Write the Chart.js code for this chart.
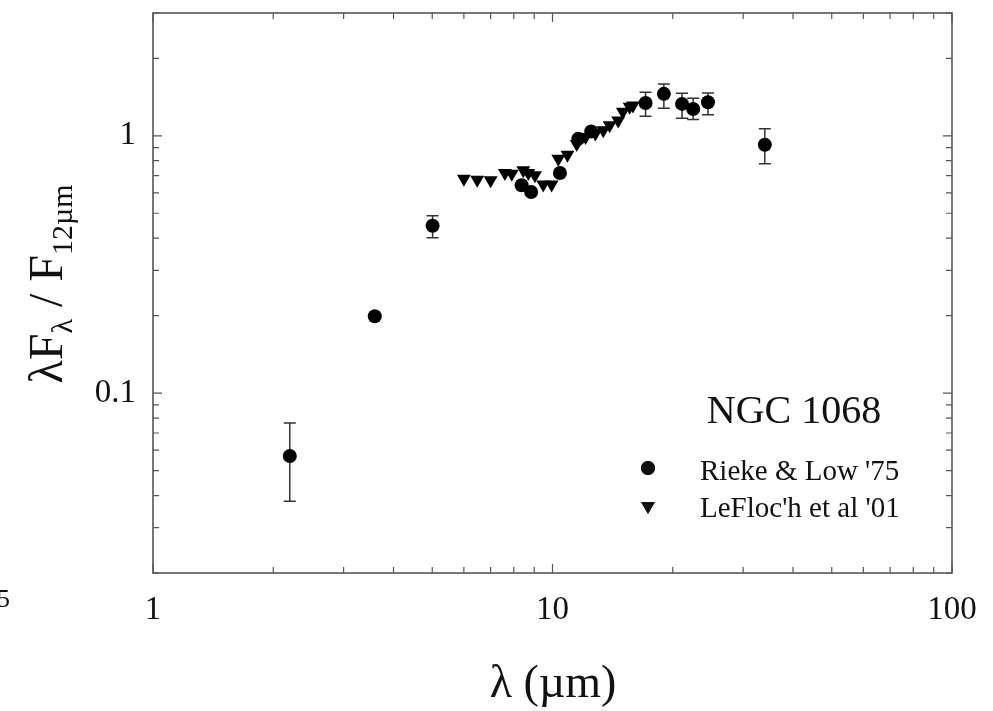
<!DOCTYPE html>
<html>
<head>
<meta charset="utf-8">
<script src="https://cdn.jsdelivr.net/npm/chart.js@4.4.0/dist/chart.umd.min.js"></script>
<style>
  html, body { margin: 0; padding: 0; background: #fff; }
  #chart { display: block; }
</style>
</head>
<body>
<canvas id="chart" width="993" height="711"></canvas>
<script>
// Rieke & Low '75 photometry (filled circles), normalised to F(12um)
const riekeX  = [2.2, 3.59, 5.01, 8.37, 8.84, 10.44, 11.6, 12.5, 17.1, 19.0, 21.1, 22.5, 24.5, 34.0];
const riekeY  = [0.057, 0.199, 0.447, 0.642, 0.605, 0.717, 0.973, 1.04, 1.34, 1.455, 1.33, 1.27, 1.35, 0.923];
const riekeLo = [0.038, null, 0.402, null, null, null, null, null, 1.19, 1.28, 1.17, 1.157, 1.206, 0.779];
const riekeHi = [0.0765, null, 0.489, null, null, null, null, null, 1.477, 1.59, 1.464, 1.40, 1.468, 1.064];

// LeFloc'h et al '01 spectrum (down triangles)
const leflocX = [6.0, 6.48, 7.0, 7.6, 7.91, 8.45, 8.7, 9.04, 9.48, 9.95, 10.34, 10.9, 11.5, 12.1, 12.8, 13.4, 13.9, 14.6, 15.0, 15.6, 15.9];
const leflocY = [0.681, 0.675, 0.672, 0.716, 0.712, 0.734, 0.717, 0.702, 0.646, 0.646, 0.814, 0.844, 0.93, 0.99, 1.02, 1.05, 1.10, 1.146, 1.24, 1.296, 1.31];

// axes
const xTicks = [1, 2, 3, 4, 5, 6, 7, 8, 9, 10, 20, 30, 40, 50, 60, 70, 80, 90, 100];
const xMajor = [1, 10, 100];
const yTicks = [0.02, 0.03, 0.04, 0.05, 0.06, 0.07, 0.08, 0.09, 0.1, 0.2, 0.3, 0.4, 0.5, 0.6, 0.7, 0.8, 0.9, 1, 2, 3];
const yMajor = [0.1, 1];

const seriesNames = ["Rieke & Low '75", "LeFloc'h et al '01"];
const objectName = 'NGC 1068';

const SERIF = '"Liberation Serif", "DejaVu Serif", serif';

// error bars for the Rieke & Low points
const errorBars = {
  id: 'errorBars',
  beforeDatasetsDraw(chart) {
    const { ctx, scales: { x, y } } = chart;
    ctx.save();
    ctx.strokeStyle = '#333';
    ctx.lineWidth = 1.5;
    riekeX.forEach((v, i) => {
      if (riekeLo[i] == null) return;
      const px = x.getPixelForValue(v);
      const lo = y.getPixelForValue(riekeLo[i]);
      const hi = y.getPixelForValue(riekeHi[i]);
      ctx.beginPath();
      ctx.moveTo(px, lo); ctx.lineTo(px, hi);
      ctx.moveTo(px - 6, lo); ctx.lineTo(px + 6, lo);
      ctx.moveTo(px - 6, hi); ctx.lineTo(px + 6, hi);
      ctx.stroke();
    });
    ctx.restore();
  }
};

// box frame with inward ticks on all four sides
const frameTicks = {
  id: 'frameTicks',
  afterDraw(chart) {
    const { ctx, chartArea: a, scales: { x, y } } = chart;
    ctx.save();
    ctx.strokeStyle = '#555';
    ctx.lineWidth = 1.6;
    ctx.strokeRect(a.left, a.top, a.right - a.left, a.bottom - a.top);
    ctx.lineWidth = 1.2;
    ctx.beginPath();
    xTicks.forEach(v => {
      const px = x.getPixelForValue(v);
      const len = xMajor.includes(v) ? 9 : 6;
      ctx.moveTo(px, a.bottom); ctx.lineTo(px, a.bottom - len);
      ctx.moveTo(px, a.top); ctx.lineTo(px, a.top + len);
    });
    yTicks.forEach(v => {
      const py = y.getPixelForValue(v);
      const len = yMajor.includes(v) ? 9 : 6;
      ctx.moveTo(a.left, py); ctx.lineTo(a.left + len, py);
      ctx.moveTo(a.right, py); ctx.lineTo(a.right - len, py);
    });
    ctx.stroke();
    ctx.restore();
  }
};

// axis titles (with subscripts), object name and legend
const labels = {
  id: 'labels',
  afterDraw(chart) {
    const { ctx } = chart;
    ctx.save();
    ctx.fillStyle = '#111';

    // x title
    ctx.font = '46px ' + SERIF;
    ctx.textAlign = 'center';
    ctx.textBaseline = 'alphabetic';
    ctx.fillText('\u03bb (\u00b5m)', 553, 697);

    // y title, rotated
    const parts = [
      { t: '\u03bbF', s: 48, dy: 0 },
      { t: '\u03bb', s: 30, dy: 10 },
      { t: ' / F', s: 48, dy: 0 },
      { t: '12\u00b5m', s: 30, dy: 10 }
    ];
    let total = 0;
    parts.forEach(p => { ctx.font = p.s + 'px ' + SERIF; p.w = ctx.measureText(p.t).width; total += p.w; });
    ctx.translate(62, 284);
    ctx.rotate(-Math.PI / 2);
    ctx.textAlign = 'left';
    let cx = -total / 2;
    parts.forEach(p => {
      ctx.font = p.s + 'px ' + SERIF;
      ctx.fillText(p.t, cx, p.dy);
      cx += p.w;
    });
    ctx.setTransform(1, 0, 0, 1, 0, 0);

    // object name
    ctx.font = '40px ' + SERIF;
    ctx.textAlign = 'center';
    ctx.fillText(objectName, 794, 423);

    // legend
    ctx.font = '29px ' + SERIF;
    ctx.textAlign = 'left';
    ctx.fillText(seriesNames[0], 700, 480);
    ctx.fillText(seriesNames[1], 700, 517);
    Chart.helpers.drawPoint(ctx, { pointStyle: 'circle', radius: 7, rotation: 0, borderWidth: 0 }, 648, 468);
    ctx.fill();
    Chart.helpers.drawPoint(ctx, { pointStyle: 'triangle', radius: 8, rotation: 180, borderWidth: 0 }, 648, 506);
    ctx.fill();

    // stray label fragment at the left edge
    ctx.font = '26px ' + SERIF;
    ctx.fillText('5', -3, 607);
    ctx.restore();
  }
};

new Chart(document.getElementById('chart'), {
  type: 'scatter',
  data: {
    datasets: [
      {
        label: seriesNames[0],
        data: riekeX.map((v, i) => ({ x: v, y: riekeY[i] })),
        pointStyle: 'circle',
        pointRadius: 7,
        backgroundColor: '#000',
        borderColor: '#000',
        borderWidth: 0
      },
      {
        label: seriesNames[1],
        data: leflocX.map((v, i) => ({ x: v, y: leflocY[i] })),
        pointStyle: 'triangle',
        pointRotation: 180,
        pointRadius: 8,
        backgroundColor: '#000',
        borderColor: '#000',
        borderWidth: 0
      }
    ]
  },
  options: {
    responsive: false,
    animation: false,
    layout: { padding: { top: 13, right: 41, left: 0, bottom: 0 } },
    plugins: { legend: { display: false }, tooltip: { enabled: false } },
    scales: {
      x: {
        type: 'logarithmic',
        min: 1,
        max: 100,
        afterBuildTicks: s => { s.ticks = xTicks.map(v => ({ value: v })); },
        afterFit: s => { s.height = 138; s.paddingLeft = 0; s.paddingRight = 0; },
        grid: { display: false },
        border: { display: false },
        ticks: {
          autoSkip: false,
          maxRotation: 0,
          padding: 10,
          color: '#111',
          font: { family: SERIF, size: 33 },
          callback: v => xMajor.includes(v) ? String(v) : ''
        }
      },
      y: {
        type: 'logarithmic',
        min: 0.02,
        max: 3,
        afterBuildTicks: s => { s.ticks = yTicks.map(v => ({ value: v })); },
        afterFit: s => { s.width = 153; s.paddingTop = 0; s.paddingBottom = 0; },
        grid: { display: false },
        border: { display: false },
        ticks: {
          autoSkip: false,
          padding: 9,
          color: '#111',
          font: { family: SERIF, size: 33 },
          callback: v => yMajor.includes(v) ? String(v) : ''
        }
      }
    }
  },
  plugins: [errorBars, frameTicks, labels]
});
</script>
</body>
</html>
